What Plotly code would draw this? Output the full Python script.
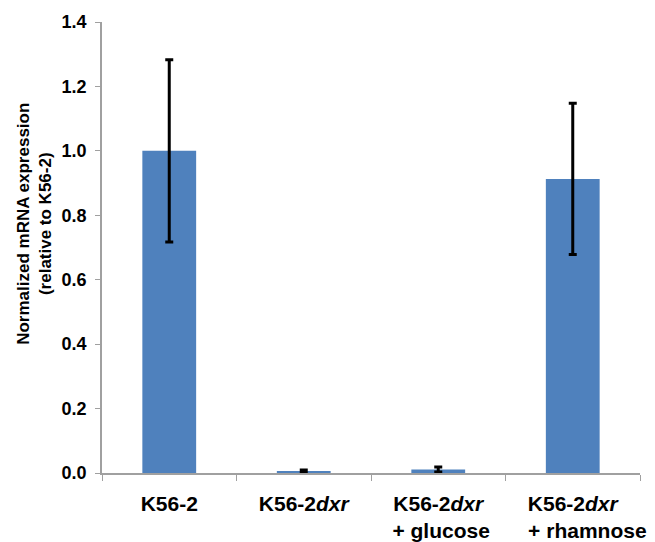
import plotly.graph_objects as go

NB = "\u00a0"
categories = [
    "K56-2",
    "K56-2<i>dxr</i>",
    NB + "K56-2<i>dxr</i>" + NB + "<br>" + NB + "+ glucose",
    NB * 5 + "K56-2<i>dxr</i>" + NB * 5 + "<br>" + NB * 5 + "+ rhamnose",
]
values = [1.0, 0.006, 0.011, 0.913]
errors = [0.283, 0.003, 0.008, 0.235]
y_ticks = [0.0, 0.2, 0.4, 0.6, 0.8, 1.0, 1.2, 1.4]
y_title = "Normalized mRNA expression<br>(relative to K56-2)"

fig = go.Figure(
    go.Bar(
        x=categories,
        y=values,
        marker=dict(color="#4F81BD", line=dict(width=0)),
        error_y=dict(type="data", array=errors, visible=True,
                     color="black", thickness=3, width=4),
    )
)

font = "Liberation Sans, Arial, sans-serif"
fig.update_layout(
    width=655, height=542,
    margin=dict(l=102, r=15, t=22, b=69),
    paper_bgcolor="white", plot_bgcolor="white",
    bargap=0.6,
    showlegend=False,
    font=dict(family=font, color="black"),
)
fig.update_xaxes(
    type="category",
    tickangle=0,
    automargin=False,
    showline=True, linecolor="#A0A0A0", linewidth=1.5,
    ticks="outside", tickson="boundaries", ticklen=6, tickcolor="#A0A0A0",
    ticklabelstandoff=11,
    tickfont=dict(family=font, size=21, color="black", weight="bold"),
    showgrid=False,
)
fig.update_yaxes(
    range=[0, 1.4],
    tickvals=y_ticks,
    tickformat=".1f",
    automargin=False,
    showline=True, linecolor="#A0A0A0", linewidth=1.5,
    ticks="outside", ticklen=5, tickcolor="#A0A0A0",
    ticklabelstandoff=5,
    tickfont=dict(family=font, size=18, color="black", weight="bold"),
    showgrid=False, zeroline=False,
)
fig.add_annotation(
    text=y_title, textangle=-90,
    xref="paper", yref="paper", x=0, y=0.5525,
    xanchor="center", yanchor="middle", xshift=-67,
    showarrow=False,
    font=dict(family=font, size=17, color="black", weight="bold"),
)

fig.write_html("out.html")
